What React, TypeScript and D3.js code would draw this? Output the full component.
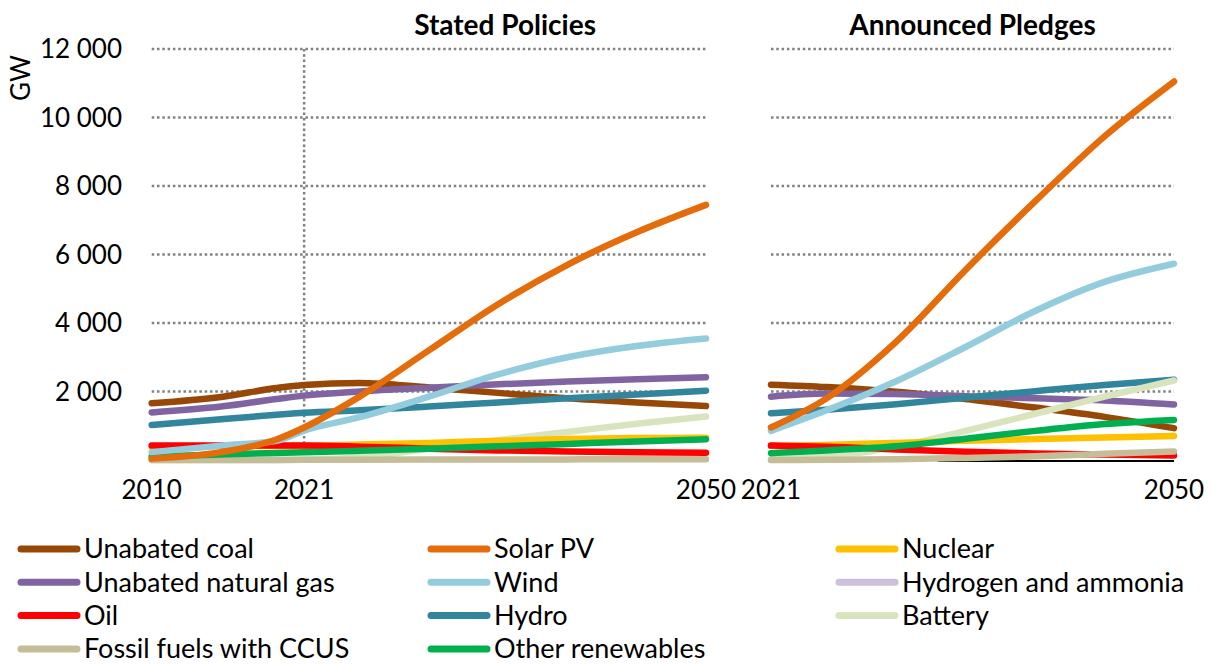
import React from "react";
import * as d3 from "d3";

// ---------- data ----------
const spYears = [2010, 2015, 2019, 2021, 2025, 2030, 2035, 2040, 2045, 2050];
const apsYears = [2021, 2025, 2030, 2035, 2040, 2045, 2050];

const spCoal = [1655, 1840, 2100, 2190, 2250, 2120, 1960, 1800, 1680, 1575];
const spGas = [1390, 1560, 1780, 1880, 2000, 2110, 2210, 2290, 2360, 2415];
const spHydro = [1020, 1190, 1320, 1380, 1450, 1560, 1680, 1800, 1910, 2025];
const spOil = [420, 420, 420, 420, 390, 330, 280, 245, 225, 215];
const spNuclear = [390, 400, 410, 415, 450, 500, 560, 610, 640, 650];
const spCcus = [0, 0, 3, 5, 8, 12, 15, 18, 20, 20];
const spOther = [100, 160, 205, 225, 270, 330, 400, 470, 540, 605];
const spBattery = [0, 0, 3, 8, 80, 330, 580, 820, 1060, 1270];
const spWind = [230, 420, 560, 860, 1250, 1850, 2500, 3000, 3330, 3550];
const spSolar = [40, 230, 600, 950, 1850, 3200, 4550, 5700, 6650, 7450];

const apsCoal = [2200, 2130, 1990, 1780, 1530, 1260, 930];
const apsGas = [1850, 1940, 1930, 1860, 1800, 1740, 1620];
const apsHydro = [1365, 1470, 1630, 1820, 2010, 2190, 2340];
const apsOil = [420, 390, 310, 240, 190, 160, 130];
const apsNuclear = [415, 440, 500, 560, 610, 660, 700];
const apsCcus = [0, 5, 20, 60, 110, 180, 250];
const apsOther = [200, 280, 400, 620, 850, 1050, 1170];
const apsBattery = [10, 100, 380, 850, 1350, 1850, 2320];
const apsWind = [850, 1450, 2300, 3300, 4350, 5200, 5730];
const apsSolar = [950, 1800, 3450, 5550, 7550, 9450, 11050];

const apsBaselineYears = [2033, 2050];

const yTicks = [2000, 4000, 6000, 8000, 10000, 12000];
const yTickLabels = ["2 000", "4 000", "6 000", "8 000", "10 000", "12 000"];
const spXTicks = [2010, 2021, 2050];
const apsXTicks = [2021, 2050];
const panelTitles = ["Stated Policies", "Announced Pledges"];

// drawing order (bottom -> top)
const seriesNames = [
  "Unabated coal", "Unabated natural gas", "Hydro", "Battery", "Nuclear", "Oil",
  "Fossil fuels with CCUS", "Other renewables", "Wind", "Solar PV",
];
const seriesColors = [
  "#974706", "#8064a2", "#31859c", "#d7e4bd", "#ffc000", "#ff0000",
  "#c4bd97", "#00b050", "#93cddd", "#e46c0a",
];
const spSeries = [spCoal, spGas, spHydro, spBattery, spNuclear, spOil, spCcus, spOther, spWind, spSolar];
const apsSeries = [apsCoal, apsGas, apsHydro, apsBattery, apsNuclear, apsOil, apsCcus, apsOther, apsWind, apsSolar];

const legendItems = [
  ["Unabated coal", "#974706"], ["Solar PV", "#e46c0a"], ["Nuclear", "#ffc000"],
  ["Unabated natural gas", "#8064a2"], ["Wind", "#93cddd"], ["Hydrogen and ammonia", "#ccc0da"],
  ["Oil", "#ff0000"], ["Hydro", "#31859c"], ["Battery", "#d7e4bd"],
  ["Fossil fuels with CCUS", "#c4bd97"], ["Other renewables", "#00b050"],
];

// ---------- layout ----------
const W = 1211, H = 665;
const FONT = "Lato, 'Open Sans', sans-serif";
const y = d3.scaleLinear().domain([0, 12000]).range([460, 49]);
const xSP = d3.scaleLinear().domain([2010, 2050]).range([151.7, 706]);
const xAPS = d3.scaleLinear().domain([2021, 2050]).range([771, 1174]);

function linePath(xs: d3.ScaleLinear<number, number>, years: number[], vals: number[]) {
  const gen = d3.line<number>()
    .x((_, i) => xs(years[i]))
    .y((v) => y(v))
    .curve(d3.curveMonotoneX);
  return gen(vals) || "";
}

const GRID = { stroke: "#808080", strokeWidth: 2.5, strokeDasharray: "2.5 2.8" };

export default function App() {
  const panels = [
    { xs: xSP, years: spYears, series: spSeries, ticks: spXTicks, title: panelTitles[0], titleFrom: 2021 },
    { xs: xAPS, years: apsYears, series: apsSeries, ticks: apsXTicks, title: panelTitles[1], titleFrom: 2021 },
  ];
  return (
    <svg width={W} height={H} style={{ position: "absolute", left: 0, top: 0, background: "#fff" }} fontFamily={FONT}>
      {/* y labels */}
      {yTicks.map((t, i) => (
        <text key={t} x={122} y={y(t)} dy="0.35em" textAnchor="end" fontSize={26} fill="#000">{yTickLabels[i]}</text>
      ))}
      <text transform={`translate(21,78) rotate(-90)`} textAnchor="middle" dy="0.35em" fontSize={26} fill="#000">GW</text>

      {panels.map((p, pi) => {
        const [x0, x1] = p.xs.range();
        return (
          <g key={pi}>
            <text x={(p.xs(p.titleFrom) + x1) / 2} y={25} dy="0.35em" textAnchor="middle" fontSize={28} fontWeight="bold">{p.title}</text>
            {yTicks.map((t) => (
              <line key={t} x1={x0} x2={x1} y1={y(t)} y2={y(t)} {...GRID} />
            ))}
            {pi === 0 && (
              <line x1={p.xs(2021)} x2={p.xs(2021)} y1={y(12000)} y2={462} {...GRID} />
            )}
            {pi === 1 && (
              <line x1={p.xs(apsBaselineYears[0])} x2={p.xs(apsBaselineYears[1])} y1={y(0) + 1} y2={y(0) + 1} stroke="#000" strokeWidth={2} />
            )}
            {p.series.map((vals, si) => (
              <path key={si} d={linePath(p.xs, p.years, vals)} fill="none" stroke={seriesColors[si]}
                strokeWidth={6.5} strokeLinecap="round" strokeLinejoin="round">
                <title>{seriesNames[si]}</title>
              </path>
            ))}
            {p.ticks.map((t) => (
              <text key={t} x={p.xs(t)} y={490} dy="0.35em" textAnchor="middle" fontSize={26}>{t}</text>
            ))}
          </g>
        );
      })}

      {/* legend */}
      {legendItems.map(([name, color], i) => {
        const col = i % 3, row = Math.floor(i / 3);
        const lx = [18, 428, 836][col];
        const ly = 549 + row * 33.3;
        return (
          <g key={name}>
            <line x1={lx + 3} x2={lx + 59} y1={ly} y2={ly} stroke={color} strokeWidth={7} strokeLinecap="round" />
            <text x={lx + 66} y={ly} dy="0.35em" fontSize={27}>{name}</text>
          </g>
        );
      })}
    </svg>
  );
}
